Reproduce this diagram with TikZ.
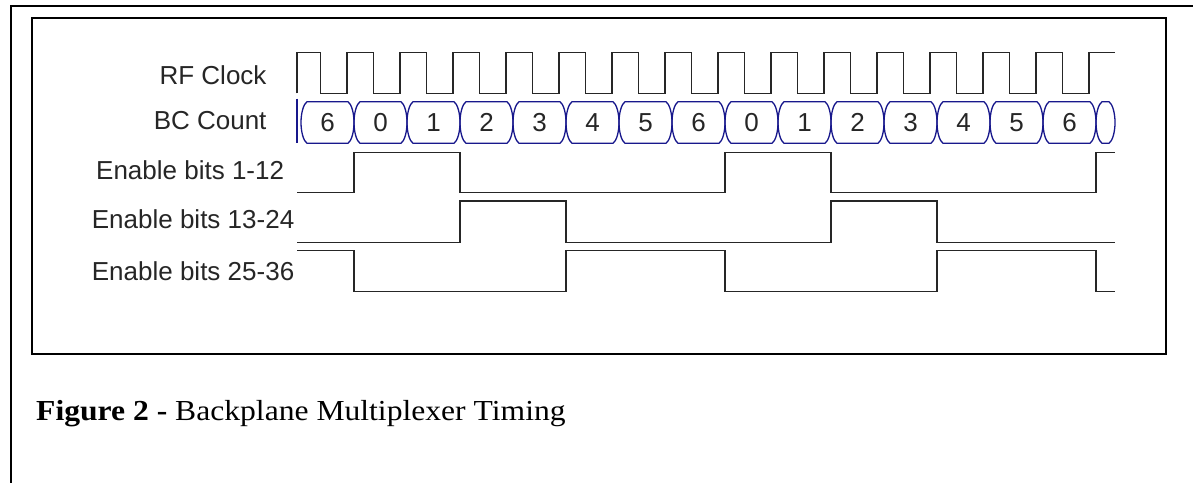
\documentclass[tikz,border=0pt]{standalone}
\usepackage{fontspec}
\setmainfont{Liberation Serif}
\newfontfamily\labelfont{Liberation Sans}
\definecolor{countblue}{RGB}{24,24,140}

% one bus cell of the BC count: hexagon-like outline with curved ends
\newcommand\countcell[2]{%
  \draw[cell] ({#1+6},101.7) -- ({#2-6},101.7)
    .. controls ({#2-2.5},104) and (#2,113) .. (#2,122.5)
    .. controls (#2,132) and ({#2-2.5},141) .. ({#2-6},143.3)
    -- ({#1+6},143.3)
    .. controls ({#1+2.5},141) and (#1,132) .. (#1,122.5)
    .. controls (#1,113) and ({#1+2.5},104) .. cycle;}

\begin{document}
\begin{tikzpicture}[x=1pt,y=-1pt,
  frame/.style={line width=2pt,black},
  wave/.style={line width=1.5pt,black!85,line join=miter},
  cell/.style={line width=1.3pt,countblue},
  lbl/.style={font=\labelfont\fontsize{26}{30}\selectfont,inner sep=0pt,text=black!85},
  digit/.style={font=\labelfont\fontsize{26}{30}\selectfont,inner sep=0pt,text=black!85,anchor=base}]

\clip (0,0) rectangle (1193,482);
\fill[white] (0,0) rectangle (1193,482);

% page frame and figure box
\draw[frame] (11,495) -- (11,6) -- (1200,6);
\draw[frame] (32,17.7) rectangle (1165.7,354);

% signal names
\node[lbl,anchor=base east] (lclk) at (266.7,84.3) {RF Clock};
\node[lbl,anchor=base east] (lbc) at (266.7,129) {BC Count};
\node[lbl,anchor=base west] (len1) at (96,179.3) {Enable bits 1-12};
\node[lbl,anchor=base west] (len2) at (91.7,228.3) {Enable bits 13-24};
\node[lbl,anchor=base west] (len3) at (91.7,280) {Enable bits 25-36};

% RF clock
\draw[wave] (297,93.3) -- (297,52.7) -- (320.5,52.7) -- (320.5,93.3)
  \foreach \k in {1,...,14}{
    -- ({301+53*\k-7},93.3) -- ({301+53*\k-7},52.7)
    -- ({301+53*\k+19.5},52.7) -- ({301+53*\k+19.5},93.3)}
  -- (1089,93.3) -- (1089,52.7) -- (1115,52.7);

% BC count bus
\draw[cell] (297,98.5) -- (297,142.5);
\foreach \k/\d in {0/6,1/0,2/1,3/2,4/3,5/4,6/5,7/6,8/0,9/1,10/2,11/3,12/4,13/5,14/6}{
  \pgfmathsetmacro\ca{301+53*\k}
  \pgfmathsetmacro\cb{\ca+53}
  \countcell{\ca}{\cb}
  \node[digit] (d\k) at ({(\ca+\cb)/2},131.7) {\d};
}
\countcell{1096}{1115}

% enable lines
\draw[wave] (297,192.3) -| (354,152.3) -| (460,192.3) -| (725,152.3)
  -| (831,192.3) -| (1096,152.3) -- (1115,152.3);
\draw[wave] (297,242.3) -| (460,201) -| (566,242.3) -| (831,201)
  -| (937,242.3) -- (1115,242.3);
\draw[wave] (297,250.7) -| (354,291.7) -| (566,250.7) -| (725,291.7)
  -| (937,250.7) -| (1096,291.7) -- (1115,291.7);

% caption
\node[anchor=base west,inner sep=0pt,font=\fontsize{29}{34}\selectfont] (caption)
  at (36,420) {\scalebox{1.09}[1]{\textbf{Figure 2 -} Backplane Multiplexer Timing}};
\end{tikzpicture}
\end{document}
